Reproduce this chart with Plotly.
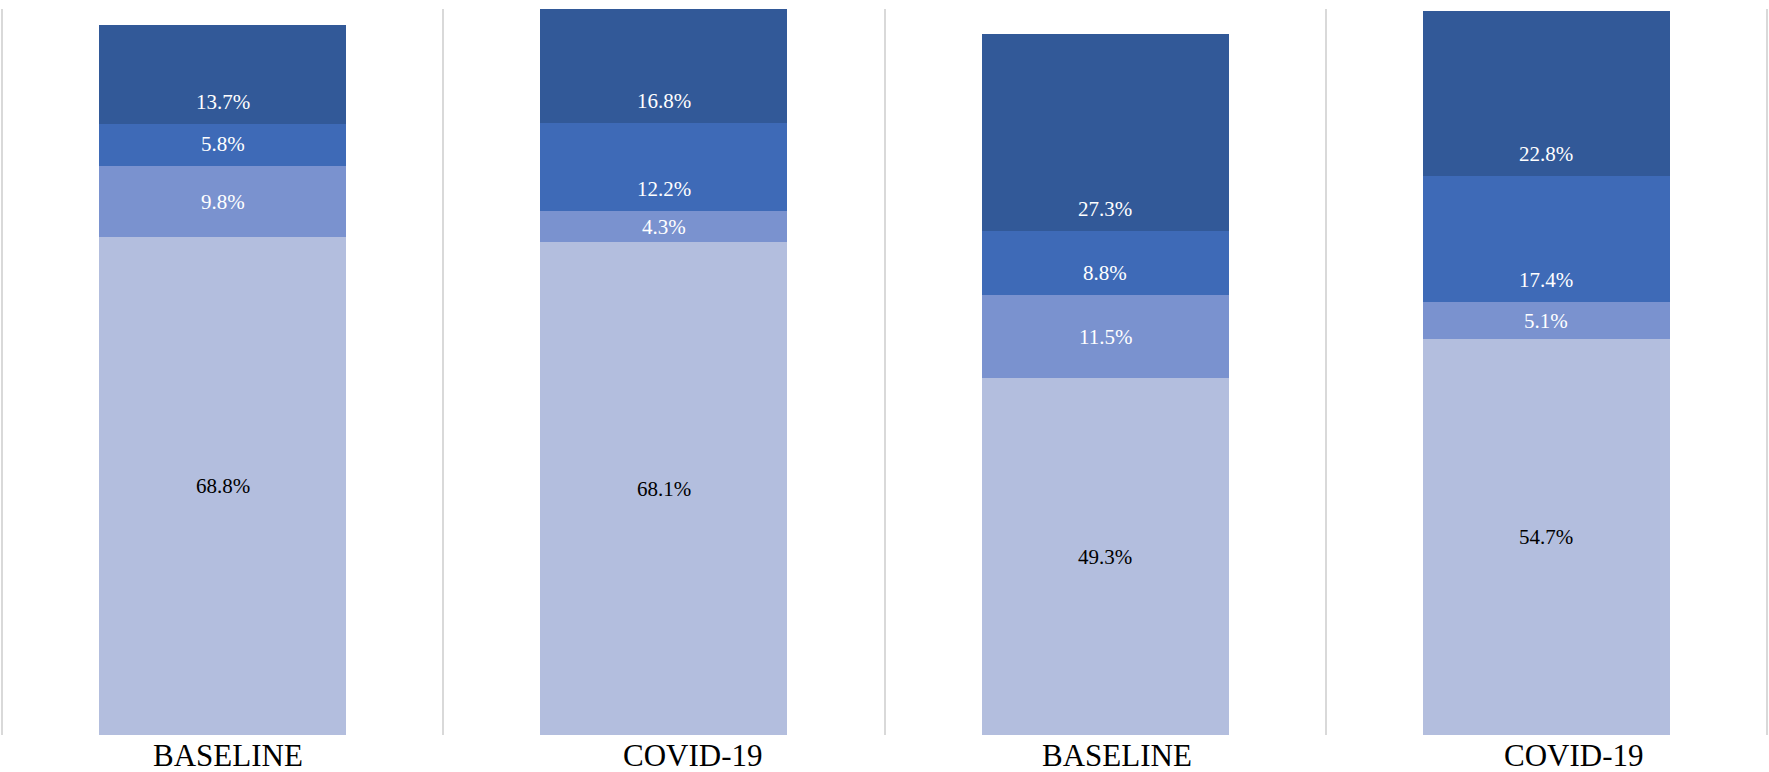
import plotly.graph_objects as go

categories = ["BASELINE", "COVID-19", "BASELINE", "COVID-19"]
x_pos = [0, 1, 2, 3]
seg1 = [68.8, 68.1, 49.3, 54.7]   # bottom
seg2 = [9.8, 4.3, 11.5, 5.1]
seg3 = [5.8, 12.2, 8.8, 17.4]
seg4 = [13.7, 16.8, 27.3, 22.8]   # top

series = [seg1, seg2, seg3, seg4]
colors = ["rgb(179,190,222)", "rgb(122,146,207)", "rgb(62,106,183)", "rgb(50,89,152)"]
text_colors = ["black", "white", "white", "white"]
label_mode = ["center", "center", "base", "base"]
cat_label_shift = [5, 29, 12, 28]   # px offset of category labels (as in reference)

FONT = "Liberation Serif"

fig = go.Figure()
for vals, col in zip(series, colors):
    fig.add_trace(go.Bar(
        x=x_pos, y=vals, marker=dict(color=col, line=dict(width=0)),
        hoverinfo="skip", showlegend=False,
    ))

annotations = []
base = [0.0] * len(x_pos)
for vals, tcol, mode in zip(series, text_colors, label_mode):
    for i, v in enumerate(vals):
        if mode == "center":
            yy, shift = base[i] + v / 2.0, 0
        else:
            yy, shift = base[i], 22
        annotations.append(dict(
            x=x_pos[i], y=yy, xref="x", yref="y", text=f"{v:.1f}%",
            showarrow=False, yanchor="middle", yshift=shift,
            font=dict(family=FONT, size=21, color=tcol),
        ))
    base = [b + v for b, v in zip(base, vals)]

for xp, cat, dx in zip(x_pos, categories, cat_label_shift):
    annotations.append(dict(
        x=xp, y=0, xref="x", yref="paper", text=cat, showarrow=False,
        yanchor="top", xanchor="center", xshift=dx, yshift=-1,
        font=dict(family=FONT, size=31, color="black"),
    ))

fig.update_layout(
    width=1769, height=772,
    margin=dict(l=0, r=0, t=9, b=37, autoexpand=False),
    barmode="stack", bargap=0.44,
    plot_bgcolor="white", paper_bgcolor="white",
    annotations=annotations,
    xaxis=dict(
        range=[-0.505, 3.505], tickmode="array", tickvals=x_pos,
        showticklabels=False,
        showgrid=False, zeroline=False, showline=False, ticks="",
        automargin=False,
        minor=dict(tickmode="array", tickvals=[-0.5, 0.5, 1.5, 2.5, 3.5],
                   showgrid=True, gridcolor="#D9D9D9", gridwidth=2, ticks=""),
    ),
    yaxis=dict(range=[0, 100.3], visible=False, showgrid=False, zeroline=False,
               automargin=False),
)

fig.write_html("out.html", config={"displayModeBar": False},
               post_script="document.body.style.margin='0';")
